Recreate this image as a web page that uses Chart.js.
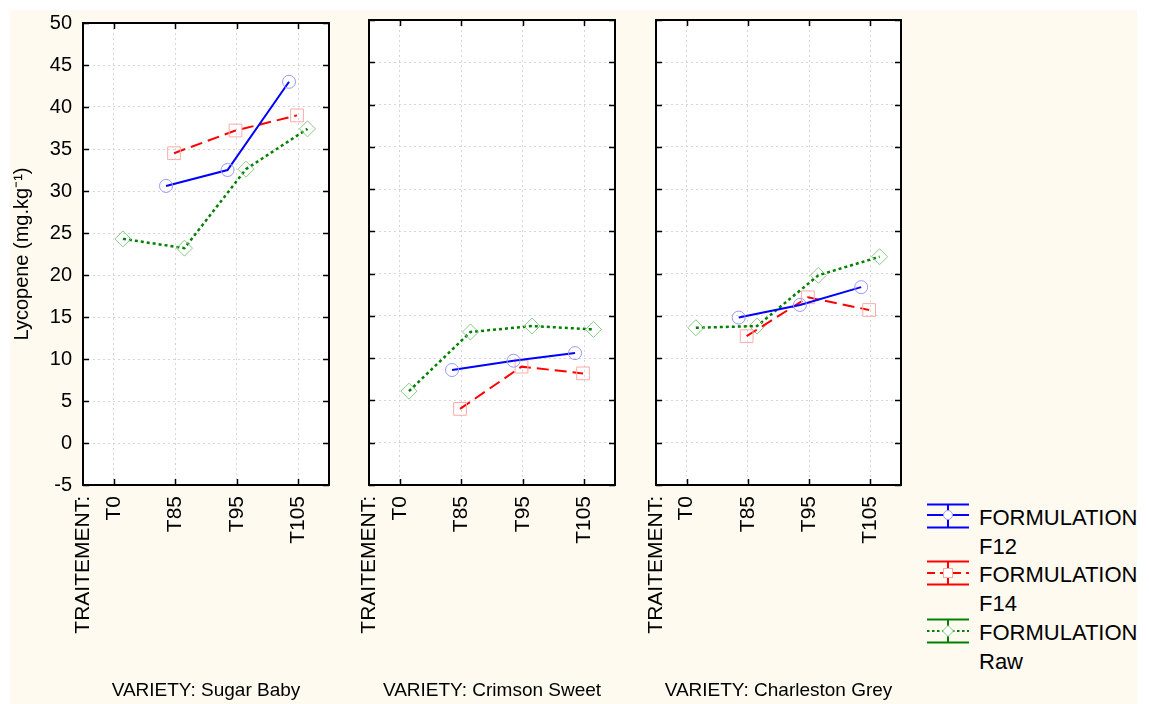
<!DOCTYPE html>
<html lang="fr">
<head>
<meta charset="UTF-8" />
<title>Lycopene par variété et traitement</title>
<script src="https://cdn.jsdelivr.net/npm/chart.js"></script>
<style>
  body { margin: 0; background: #fff; font-family: "Liberation Sans", Arial, sans-serif; }
  #bg { position: absolute; left: 10px; top: 10px; width: 1127px; height: 694px; background: #fffaf0; }
  canvas { position: absolute; top: 0; }
  .leg-icon { position: absolute; }
  .leg-text { position: absolute; left: 979px; font-size: 22px; line-height: 29px; color: #000; white-space: nowrap; }
</style>
</head>
<body>
<div id="bg"></div>
<canvas id="p1" width="340" height="704" style="left:0px"></canvas>
<canvas id="p2" width="290" height="704" style="left:340px"></canvas>
<canvas id="p3" width="290" height="704" style="left:630px"></canvas>

<svg class="leg-icon" style="left:926px;top:503px" width="44" height="26">
  <g stroke="#0000ff" stroke-width="2" fill="none">
    <line x1="1" y1="1.5" x2="43" y2="1.5"/><line x1="1" y1="24.5" x2="43" y2="24.5"/>
    <line x1="22" y1="1.5" x2="22" y2="24.5"/><line x1="1" y1="12" x2="43" y2="12"/>
  </g>
  <circle cx="22" cy="12" r="4.5" fill="#fff" stroke="#9999ff" stroke-width="1"/>
</svg>
<div class="leg-text" style="top:503px">FORMULATION<br>F12</div>

<svg class="leg-icon" style="left:926px;top:560px" width="44" height="26">
  <g stroke="#ff0000" stroke-width="2" fill="none">
    <line x1="1" y1="1.5" x2="43" y2="1.5"/><line x1="1" y1="24.5" x2="43" y2="24.5"/>
    <line x1="22" y1="1.5" x2="22" y2="24.5"/>
    <line x1="1" y1="13" x2="43" y2="13" stroke-dasharray="8 5"/>
  </g>
  <rect x="17.5" y="8.5" width="9" height="9" fill="#fff" stroke="#ffaaaa" stroke-width="1"/>
</svg>
<div class="leg-text" style="top:560px">FORMULATION<br>F14</div>

<svg class="leg-icon" style="left:926px;top:618px" width="44" height="26">
  <g stroke="#008000" stroke-width="2" fill="none">
    <line x1="1" y1="1.5" x2="43" y2="1.5"/><line x1="1" y1="24.5" x2="43" y2="24.5"/>
    <line x1="22" y1="1.5" x2="22" y2="24.5"/>
    <line x1="1" y1="13" x2="43" y2="13" stroke-dasharray="2.5 2.5"/>
  </g>
  <path d="M22 7.5 L27.5 13 L22 18.5 L16.5 13 Z" fill="#fff" stroke="#88cc88" stroke-width="1"/>
</svg>
<div class="leg-text" style="top:618px">FORMULATION<br>Raw</div>

<script>
  const treatments = ["T0", "T85", "T95", "T105"];
  const axisLabel = "TRAITEMENT:";
  const varieties = ["Sugar Baby", "Crimson Sweet", "Charleston Grey"];

  // lycopene, mg/kg, one value per treatment (null = not measured)
  const sugarF12 = [null, 30.6, 32.5, 43.0];
  const sugarF14 = [null, 34.5, 37.2, 39.0];
  const sugarRaw = [24.3, 23.2, 32.6, 37.4];

  const crimsonF12 = [null, 8.6, 9.7, 10.6];
  const crimsonF14 = [null, 4.0, 9.0, 8.2];
  const crimsonRaw = [6.1, 13.1, 13.8, 13.4];

  const charlestonF12 = [null, 14.8, 16.3, 18.4];
  const charlestonF14 = [null, 12.6, 17.2, 15.7];
  const charlestonRaw = [13.6, 13.8, 19.8, 22.0];

  const yMin = -5, yMax = 50, yStep = 5;

  const fontFamily = "'Liberation Sans', Arial, sans-serif";

  // white plot area, black frame and short inward ticks
  const framePlugin = {
    id: "frame",
    beforeDraw(chart) {
      const { ctx, chartArea: a } = chart;
      ctx.save();
      ctx.fillStyle = "#fff";
      ctx.fillRect(a.left, a.top, a.width, a.height);
      ctx.restore();
    },
    afterDraw(chart) {
      const { ctx, chartArea: a } = chart;
      const x = chart.scales.x, y = chart.scales.y;
      ctx.save();
      ctx.strokeStyle = "#000";
      ctx.lineWidth = 1.5;
      ctx.beginPath();
      x.ticks.forEach(t => {
        if (t.value < 0) return;
        const px = Math.round(x.getPixelForValue(t.value)) + 0.5;
        ctx.moveTo(px, a.top); ctx.lineTo(px, a.top + 6);
        ctx.moveTo(px, a.bottom); ctx.lineTo(px, a.bottom - 6);
      });
      y.ticks.forEach(t => {
        const py = Math.round(y.getPixelForValue(t.value)) + 0.5;
        ctx.moveTo(a.left, py); ctx.lineTo(a.left + 6, py);
        ctx.moveTo(a.right, py); ctx.lineTo(a.right - 6, py);
      });
      ctx.stroke();
      ctx.lineWidth = 2;
      ctx.strokeRect(a.left, a.top, a.width, a.height);
      ctx.restore();
    }
  };

  function points(values, shift) {
    return values
      .map((v, i) => (v === null ? null : { x: i + shift, y: v }))
      .filter(p => p !== null);
  }

  function makePanel(id, variety, f12, f14, raw, showY, yWidth, rightPad) {
    return new Chart(document.getElementById(id), {
      type: "line",
      data: {
        datasets: [
          {
            label: "FORMULATION F12",
            data: points(f12, -0.15),
            borderColor: "#0000ff",
            borderWidth: 2,
            pointStyle: "circle",
            pointRadius: 6.5,
            pointBorderColor: "#9999ff",
            pointBackgroundColor: "rgba(255,255,255,0)",
            pointBorderWidth: 1,
          },
          {
            label: "FORMULATION F14",
            data: points(f14, -0.02),
            borderColor: "#ff0000",
            borderWidth: 2,
            borderDash: [12, 6],
            pointStyle: "rect",
            pointRadius: 9,
            pointBorderColor: "#ffaaaa",
            pointBackgroundColor: "rgba(255,255,255,0)",
            pointBorderWidth: 1,
          },
          {
            label: "FORMULATION Raw",
            data: points(raw, 0.15),
            borderColor: "#008000",
            borderWidth: 2.5,
            borderDash: [3, 3],
            pointStyle: "rectRot",
            pointRadius: 8,
            pointBorderColor: "#88cc88",
            pointBackgroundColor: "rgba(255,255,255,0)",
            pointBorderWidth: 1,
          },
        ],
      },
      options: {
        responsive: false,
        animation: false,
        layout: { padding: { top: 20, right: rightPad, bottom: 0, left: 0 } },
        plugins: { legend: { display: false }, tooltip: { enabled: false } },
        scales: {
          x: {
            type: "linear",
            min: -0.5,
            max: treatments.length - 0.5,
            afterBuildTicks: axis => {
              axis.ticks = [-0.5].concat(treatments.map((t, i) => i)).map(v => ({ value: v }));
            },
            afterFit: axis => { axis.height = 219; },
            ticks: {
              autoSkip: false,
              minRotation: 90,
              maxRotation: 90,
              padding: 11,
              color: "#000",
              font: { family: fontFamily, size: 21 },
              callback: v => (v < 0 ? axisLabel : treatments[v]),
            },
            grid: { color: "#d6d6d6", drawTicks: false },
            border: { display: false, dash: [2, 3] },
            title: {
              display: true,
              text: "VARIETY: " + variety,
              color: "#000",
              font: { family: fontFamily, size: 19 },
              padding: { top: 0, bottom: 2 },
            },
          },
          y: {
            min: yMin,
            max: yMax,
            afterFit: axis => { axis.width = yWidth; },
            ticks: {
              display: showY,
              stepSize: yStep,
              padding: 11,
              color: "#000",
              font: { family: fontFamily, size: 20 },
            },
            grid: { color: "#d6d6d6", drawTicks: false },
            border: { display: false, dash: [2, 3] },
            title: {
              display: showY,
              text: "Lycopene (mg.kg\u207B\u00B9)",
              color: "#000",
              font: { family: fontFamily, size: 20 },
              padding: { top: 10, bottom: 0 },
            },
          },
        },
      },
      plugins: [framePlugin],
    });
  }

  makePanel("p1", varieties[0], sugarF12, sugarF14, sugarRaw, true, 83, 11);
  makePanel("p2", varieties[1], crimsonF12, crimsonF14, crimsonRaw, false, 29, 15);
  makePanel("p3", varieties[2], charlestonF12, charlestonF14, charlestonRaw, false, 26, 19);
</script>
</body>
</html>
